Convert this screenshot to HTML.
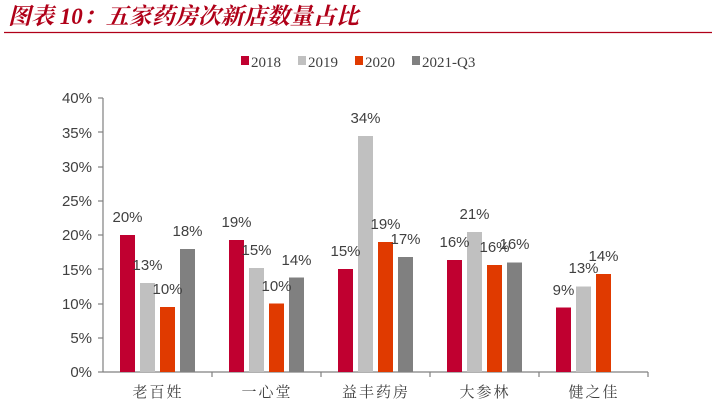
<!DOCTYPE html><html><head><meta charset="utf-8"><style>
body{margin:0;width:714px;height:414px;background:#fff;overflow:hidden}
</style></head><body>
<svg width="714" height="414" xmlns="http://www.w3.org/2000/svg">
<text x="8" y="24" font-family="'Liberation Serif','Noto Serif CJK SC',serif" font-size="23" font-weight="bold" font-style="italic" fill="#b00018">图表 10：五家药房次新店数量占比</text>
<line x1="4" y1="32.5" x2="712" y2="32.5" stroke="#b00018" stroke-width="1.2"/>
<g font-family="'Liberation Serif',serif" font-size="15" fill="#404040">
<rect x="241" y="56" width="8" height="9" fill="#c00030"/><text x="251" y="67">2018</text>
<rect x="298" y="56" width="8" height="9" fill="#c0c0c0"/><text x="308" y="67">2019</text>
<rect x="355" y="56" width="8" height="9" fill="#e03a00"/><text x="365" y="67">2020</text>
<rect x="412" y="56" width="8" height="9" fill="#808080"/><text x="422" y="67">2021-Q3</text>
</g>
<g font-family="'Liberation Sans',sans-serif" font-size="15" fill="#404040" text-anchor="end">
<text x="92" y="377">0%</text><text x="92" y="309">10%</text><text x="92" y="240">20%</text><text x="92" y="172">30%</text><text x="92" y="103">40%</text>
<text x="92" y="343">5%</text><text x="92" y="275">15%</text><text x="92" y="206">25%</text><text x="92" y="138">35%</text>
</g>
<g stroke="#808080" stroke-width="1.2">
<line x1="103" y1="98" x2="103" y2="372"/><line x1="103" y1="372" x2="648" y2="372"/>
<line x1="98" y1="98" x2="103" y2="98"/><line x1="98" y1="132" x2="103" y2="132"/><line x1="98" y1="167" x2="103" y2="167"/><line x1="98" y1="201" x2="103" y2="201"/><line x1="98" y1="235" x2="103" y2="235"/><line x1="98" y1="269" x2="103" y2="269"/><line x1="98" y1="304" x2="103" y2="304"/><line x1="98" y1="338" x2="103" y2="338"/><line x1="98" y1="372" x2="103" y2="372"/>
<line x1="212" y1="372" x2="212" y2="377"/><line x1="321" y1="372" x2="321" y2="377"/><line x1="430" y1="372" x2="430" y2="377"/><line x1="539" y1="372" x2="539" y2="377"/><line x1="648" y1="372" x2="648" y2="377"/>
</g>
<g>
<rect x="120" y="235" width="15" height="137" fill="#c00030"/>
<rect x="140" y="283" width="15" height="89" fill="#c0c0c0"/>
<rect x="160" y="307" width="15" height="65" fill="#e03a00"/>
<rect x="180" y="249" width="15" height="123" fill="#808080"/>
<rect x="229" y="240" width="15" height="132" fill="#c00030"/>
<rect x="249" y="268" width="15" height="104" fill="#c0c0c0"/>
<rect x="269" y="303.5" width="15" height="68.5" fill="#e03a00"/>
<rect x="289" y="277.5" width="15" height="94.5" fill="#808080"/>
<rect x="338" y="269" width="15" height="103" fill="#c00030"/>
<rect x="358" y="136" width="15" height="236" fill="#c0c0c0"/>
<rect x="378" y="242" width="15" height="130" fill="#e03a00"/>
<rect x="398" y="257" width="15" height="115" fill="#808080"/>
<rect x="447" y="260" width="15" height="112" fill="#c00030"/>
<rect x="467" y="232" width="15" height="140" fill="#c0c0c0"/>
<rect x="487" y="265" width="15" height="107" fill="#e03a00"/>
<rect x="507" y="262.5" width="15" height="109.5" fill="#808080"/>
<rect x="556" y="307.5" width="15" height="64.5" fill="#c00030"/>
<rect x="576" y="286.5" width="15" height="85.5" fill="#c0c0c0"/>
<rect x="596" y="274" width="15" height="98" fill="#e03a00"/>
</g>
<g font-family="'Liberation Sans',sans-serif" font-size="15" fill="#404040" text-anchor="middle">
<text x="127.5" y="222">20%</text><text x="147.5" y="270">13%</text><text x="167.5" y="294">10%</text><text x="187.5" y="236">18%</text>
<text x="236.5" y="227">19%</text><text x="256.5" y="255">15%</text><text x="276.5" y="291">10%</text><text x="296.5" y="265">14%</text>
<text x="345.5" y="256">15%</text><text x="365.5" y="123">34%</text><text x="385.5" y="229">19%</text><text x="405.5" y="244">17%</text>
<text x="454.5" y="247">16%</text><text x="474.5" y="219">21%</text><text x="494.5" y="252">16%</text><text x="514.5" y="249">16%</text>
<text x="563.5" y="295">9%</text><text x="583.5" y="273">13%</text><text x="603.5" y="261">14%</text>
</g>
<g font-family="'Liberation Serif','Noto Serif CJK SC',serif" font-size="15" fill="#404040" text-anchor="middle" letter-spacing="2">
<text x="158" y="397">老百姓</text><text x="267" y="397">一心堂</text><text x="376" y="397">益丰药房</text><text x="485" y="397">大参林</text><text x="594" y="397">健之佳</text>
</g>
</svg></body></html>
